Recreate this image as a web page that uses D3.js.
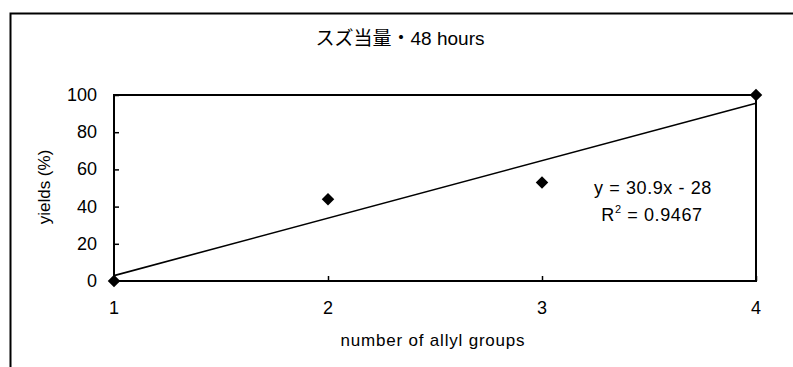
<!DOCTYPE html>
<html>
<head>
<meta charset="utf-8">
<script src="https://cdn.jsdelivr.net/npm/d3@7"></script>
<style>
  body { margin: 0; background: #fff; }
  text { font-family: "Liberation Sans", "Noto Sans CJK JP", sans-serif; fill: #000; }
</style>
</head>
<body>
<script>
var w = 793;
var h = 367;

// data
var allylGroups = [1, 2, 3, 4];
var yields = [0, 44, 53, 100];
var yTicks = [0, 20, 40, 60, 80, 100];
var xTicks = [1, 2, 3, 4];
var titleText = "スズ当量・48 hours";
var xLabel = "number of allyl groups";
var yLabel = "yields (%)";

// plot area
var plotLeft = 114, plotRight = 756, plotTop = 95, plotBottom = 281;

var svg = d3.select("body").append("svg")
    .attr("width", w)
    .attr("height", h);

// outer chart frame (only top and left edges show in the picture)
svg.append("path")
    .attr("d", "M10.5," + h + "V13.5H" + w)
    .attr("fill", "none")
    .attr("stroke", "#000")
    .attr("stroke-width", 2);

var x = d3.scaleLinear().domain([1, 4]).range([plotLeft, plotRight]);
var y = d3.scaleLinear().domain([0, 100]).range([plotBottom, plotTop]);

// plot area box
svg.append("rect")
    .attr("x", plotLeft)
    .attr("y", plotTop)
    .attr("width", plotRight - plotLeft)
    .attr("height", plotBottom - plotTop)
    .attr("fill", "none")
    .attr("stroke", "#000")
    .attr("stroke-width", 2);

// y axis, ticks pointing inward
var yAxis = svg.append("g")
    .attr("transform", "translate(" + plotLeft + ",0)")
    .call(d3.axisRight(y).tickValues(yTicks).tickSize(5).tickFormat(""));
yAxis.select(".domain").remove();
yAxis.selectAll("line").attr("stroke-width", 1.5);

svg.selectAll(".ylab")
    .data(yTicks)
    .enter().append("text")
    .attr("class", "ylab")
    .attr("x", 97)
    .attr("y", function(d) { return y(d) + 6; })
    .attr("text-anchor", "end")
    .attr("font-size", 18)
    .text(function(d) { return d; });

// x axis, ticks pointing inward
var xAxis = svg.append("g")
    .attr("transform", "translate(0," + plotBottom + ")")
    .call(d3.axisTop(x).tickValues(xTicks).tickSize(5).tickFormat(""));
xAxis.select(".domain").remove();
xAxis.selectAll("line").attr("stroke-width", 1.5);

svg.selectAll(".xlab")
    .data(xTicks)
    .enter().append("text")
    .attr("class", "xlab")
    .attr("x", function(d) { return x(d); })
    .attr("y", 314)
    .attr("text-anchor", "middle")
    .attr("font-size", 18)
    .text(function(d) { return d; });

// linear trend line from least squares
var mx = d3.mean(allylGroups), my = d3.mean(yields);
var sxy = d3.sum(allylGroups, function(d, i) { return (d - mx) * (yields[i] - my); });
var sxx = d3.sum(allylGroups, function(d) { return (d - mx) * (d - mx); });
var slope = sxy / sxx;
var intercept = my - slope * mx;

svg.append("line")
    .attr("x1", x(1))
    .attr("y1", y(slope * 1 + intercept))
    .attr("x2", x(4))
    .attr("y2", y(slope * 4 + intercept))
    .attr("stroke", "#000")
    .attr("stroke-width", 1.6);

// diamond markers
svg.selectAll(".pt")
    .data(allylGroups)
    .enter().append("path")
    .attr("class", "pt")
    .attr("d", d3.symbol().type(d3.symbolDiamond2).size(100))
    .attr("transform", function(d, i) { return "translate(" + x(d) + "," + y(yields[i]) + ")"; })
    .attr("fill", "#000");

// equation labels
svg.append("text")
    .attr("x", 653)
    .attr("y", 194)
    .attr("text-anchor", "middle")
    .attr("font-size", 18)
    .attr("letter-spacing", 0.6)
    .text("y = " + slope.toFixed(1) + "x - " + Math.abs(intercept).toFixed(0));

var r2 = svg.append("text")
    .attr("x", 652)
    .attr("y", 221)
    .attr("text-anchor", "middle")
    .attr("font-size", 18)
    .attr("letter-spacing", 0.6);
r2.append("tspan").text("R");
r2.append("tspan").attr("dy", -8).attr("font-size", 11).text("2");
r2.append("tspan").attr("dy", 8).text(" = 0.9467");

// title and axis labels
svg.append("text")
    .attr("x", 400)
    .attr("y", 45)
    .attr("text-anchor", "middle")
    .attr("font-size", 19)
    .text(titleText);

svg.append("text")
    .attr("x", 433)
    .attr("y", 346)
    .attr("text-anchor", "middle")
    .attr("font-size", 17)
    .attr("letter-spacing", 0.8)
    .text(xLabel);

svg.append("text")
    .attr("transform", "translate(50,187) rotate(-90)")
    .attr("text-anchor", "middle")
    .attr("font-size", 17)
    .text(yLabel);
</script>
</body>
</html>
